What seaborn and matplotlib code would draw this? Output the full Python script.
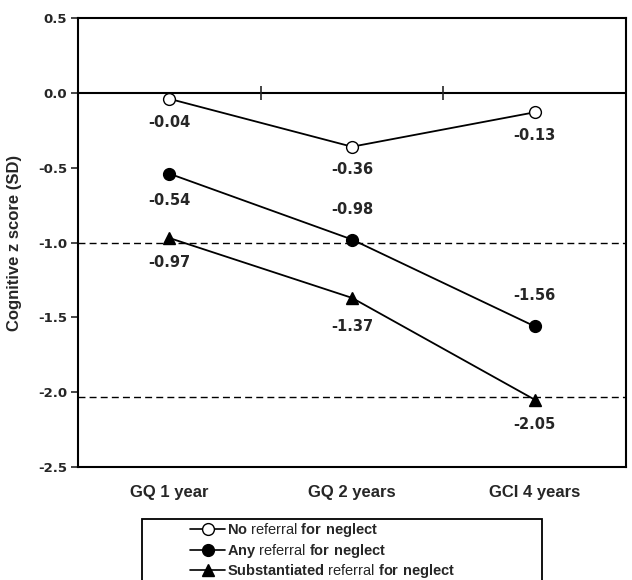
import matplotlib
matplotlib.use("Agg")
import matplotlib.pyplot as plt
import seaborn as sns
import pandas as pd
from matplotlib.patches import Rectangle
from matplotlib.lines import Line2D

# ---- data ----
categories = ["GQ 1 year", "GQ 2 years", "GCI 4 years"]
no_referral = [-0.04, -0.36, -0.13]
any_referral = [-0.54, -0.98, -1.56]
subst_referral = [-0.97, -1.37, -2.05]
series_names = ["No referral for neglect", "Any referral for neglect",
                "Substantiated referral for neglect"]
legend_labels = [r"$\bf{No}$ referral $\bf{for\ neglect}$",
                 r"$\bf{Any}$ referral $\bf{for\ neglect}$",
                 r"$\bf{Substantiated}$ referral $\bf{for\ neglect}$"]
ref_lines = [-1.0, -2.03]
yticks = [0.5, 0.0, -0.5, -1.0, -1.5, -2.0, -2.5]
ytick_labels = ["0.5", "0.0", "-0.5", "-1.0", "-1.5", "-2.0", "-2.5"]

sns.set_style("white")
plt.rcParams["font.family"] = ["Liberation Sans", "DejaVu Sans"]
plt.rcParams["mathtext.fontset"] = "custom"
plt.rcParams["mathtext.rm"] = "Liberation Sans"
plt.rcParams["mathtext.bf"] = "Liberation Sans:bold"

num_font = ["DejaVu Sans"]

fig = plt.figure(figsize=(6.32, 5.80), dpi=100)
ax = fig.add_axes([78/632, 1-467/580, 548/632, 449/580])

styles = [
    dict(marker="o", markerfacecolor="white"),
    dict(marker="o", markerfacecolor="black"),
    dict(marker="^", markerfacecolor="black"),
]
all_series = [no_referral, any_referral, subst_referral]
# label offsets in pixels (vertical) for annotation placement
offsets_px = [[-24, -23, -23], [-27, 30, 31], [-24, -29, -25]]

for name, vals, st in zip(series_names, all_series, styles):
    df = pd.DataFrame({"cat": categories, "val": vals})
    sns.lineplot(data=df, x="cat", y="val", ax=ax, color="black", lw=1.3,
                 markersize=8.5, markeredgecolor="black", markeredgewidth=1.0,
                 sort=False, zorder=3, **st)

for vals, offs in zip(all_series, offsets_px):
    for i, v in enumerate(vals):
        ax.annotate(f"{v:.2f}", (i, v), xytext=(0, offs[i]*0.72),
                    textcoords="offset points", ha="center", va="center",
                    fontsize=10.5, fontweight="bold", family=num_font)

for r in ref_lines:
    ax.axhline(r, color="black", lw=1.0, ls=(0, (5, 3)), zorder=1)
ax.axhline(0, color="black", lw=1.5, zorder=2)

ax.set_xlim(-0.5, 2.5)
ax.set_ylim(-2.5, 0.5)
ax.set_yticks(yticks)
ax.set_yticklabels(ytick_labels, fontsize=9.5, fontweight="bold", family=num_font)
ax.set_xticks(range(len(categories)))
ax.set_xticklabels(categories, fontsize=12, fontweight="bold")
ax.tick_params(axis="x", length=0, pad=13)
ax.tick_params(axis="y", left=True, length=5, width=1.2, direction="out", pad=3)
ax.set_xlabel("")
ax.set_ylabel("Cognitive z score (SD)", fontsize=12, fontweight="bold")
ax.yaxis.set_label_coords((22-78)/548, 0.5)
for sp in ax.spines.values():
    sp.set_visible(True)
    sp.set_color("black")
    sp.set_linewidth(1.5)

# tick marks on the zero line
ax2 = ax.twiny()
ax2.set_xlim(ax.get_xlim())
ax2.xaxis.set_ticks_position("bottom")
ax2.spines["bottom"].set_position(("data", 0))
for k in ["top", "left", "right", "bottom"]:
    ax2.spines[k].set_visible(False)
ax2.set_xticks([0.5, 1.5])
ax2.set_xticklabels([])
ax2.tick_params(axis="x", direction="inout", length=10, width=1.2, bottom=True, top=False)

# legend
handles = [Line2D([], [], color="black", lw=1.2, markersize=8.5,
                  markeredgecolor="black", **st) for st in styles]
leg = fig.legend(handles, legend_labels, loc="upper left",
                 bbox_to_anchor=(190/632, 1-521/580), frameon=False,
                 fontsize=10.5, handlelength=2.4, handletextpad=0.15,
                 labelspacing=0.18, borderpad=0, borderaxespad=0)
fig.add_artist(Rectangle((142/632, -0.05), 400/632, (580-519)/580 + 0.05,
                         transform=fig.transFigure, fill=False,
                         edgecolor="black", lw=1.3))

fig.savefig("out.png", dpi=100)
